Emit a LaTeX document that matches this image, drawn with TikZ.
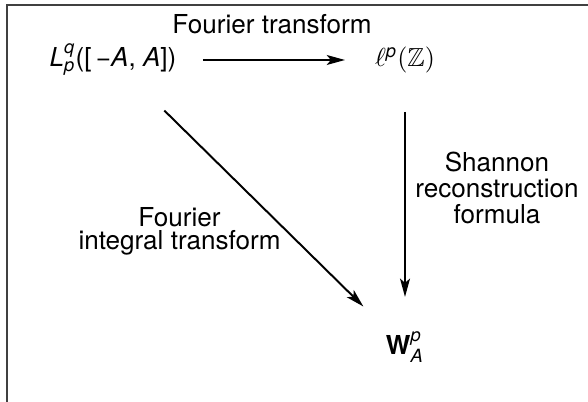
\documentclass[tikz,border=0pt]{standalone}
\usepackage{amsmath,amssymb}
\usepackage{fontspec}
\setmainfont{TeX Gyre Heros}
\usepackage{tikz}
\usetikzlibrary{arrows.meta}

\tikzset{
  obj/.style={text height=8pt, text depth=3pt},
  map/.style={line width=.75pt, -{Stealth[length=7pt, width=3.8pt, inset=1.6pt]}},
  lbl/.style={align=center},
}

\begin{document}
\begin{tikzpicture}[x=0.3834pt, y=-0.3834pt]
\useasboundingbox (0,0) rectangle (588,402);
% -- frame --
\draw[line width=.8pt, black!75] (7,402) -- (7,5) -- (588,5);
% -- objects --
\node[obj] (Lq) at (113,60) {\textit{L}$^{\textit{q}}_{\textit{p}}$([\,−\textit{A}, \textit{A}])};
\node[obj] (lp) at (405,60) {$\ell^{\textit{p}}(\mathbb{Z})$};
\node[obj] (WA) at (405,347.5) {\textbf{W}$^{\textit{p}}_{\textit{A}}$};
% -- maps --
\draw[map, shorten <=34.5pt, shorten >=23pt] (Lq.center) -- (lp.center);
\draw[map, shorten <=19.9pt, shorten >=19.4pt] (lp.center) -- (WA.center);
\draw[map, shorten <=27.6pt, shorten >=22.4pt] (Lq.center) -- (WA.center);
% -- labels --
\node[lbl] (ft) at (272,24) {Fourier transform};
\node[lbl, font={\fontsize{10pt}{9.8pt}\selectfont}] (sh) at (497,188) {Shannon\\reconstruction\\formula};
\node[lbl, font={\fontsize{10pt}{8.8pt}\selectfont}] (fi) at (179.5,231) {Fourier\\integral transform};
\end{tikzpicture}
\end{document}
